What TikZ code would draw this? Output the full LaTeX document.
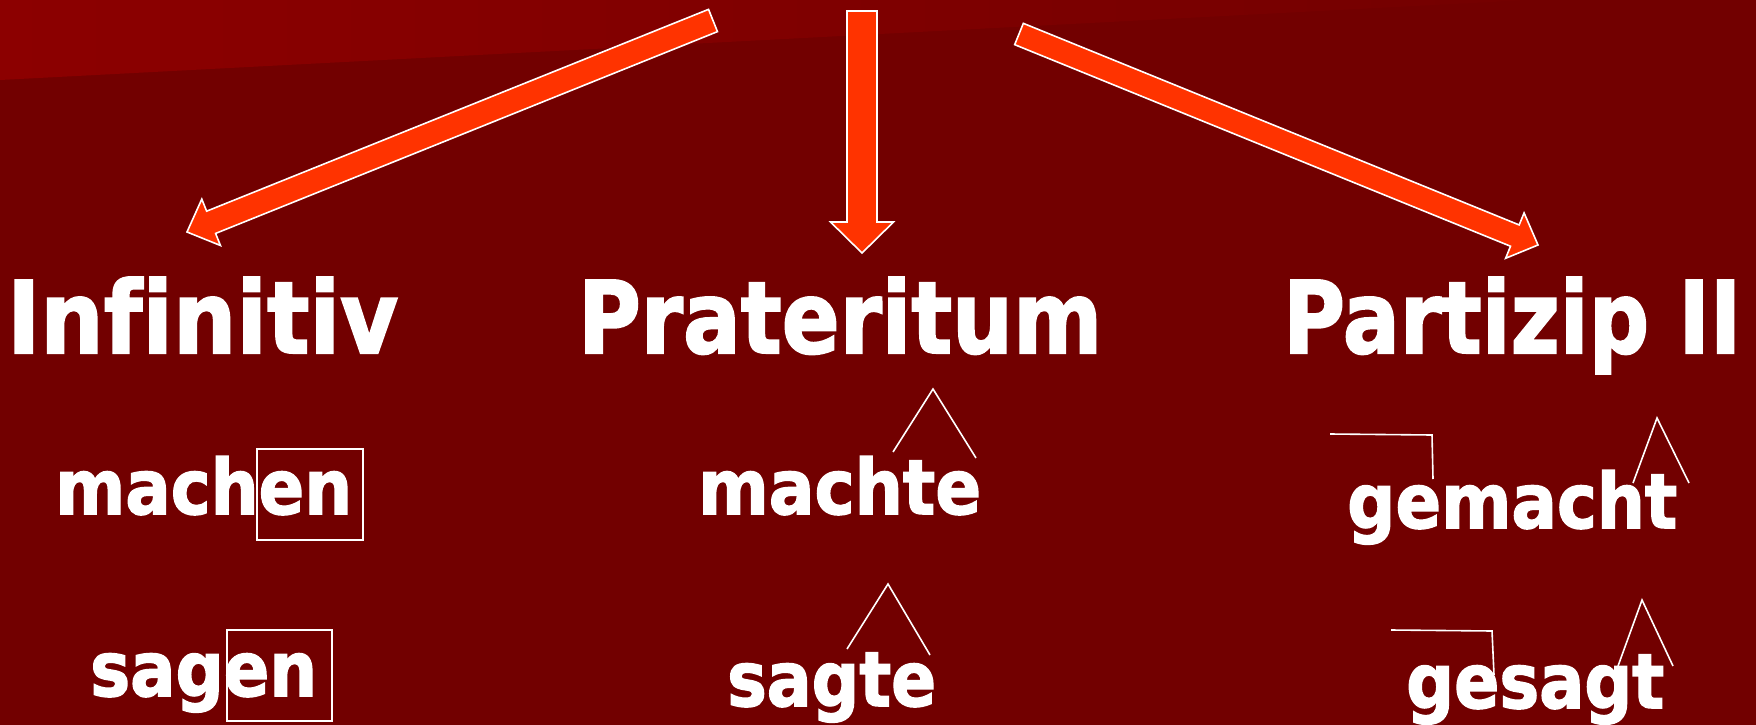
\documentclass[tikz,border=0pt]{standalone}
\usepackage{fontspec}
\setmainfont{DejaVu Sans}[Ligatures=NoCommon, BoldFeatures={FakeBold=2}]
\usetikzlibrary{calc}
\definecolor{bg}{HTML}{720000}
\definecolor{bandl}{HTML}{8C0000}
\definecolor{bandr}{HTML}{740000}
\definecolor{arrowfill}{HTML}{FF3300}
\newcommand\fitw[2]{\sbox0{#2}\pgfmathsetmacro\fitfac{#1/\wd0}\scalebox{\fitfac}[1]{\usebox0}}
\newcommand\fatarrow[6]{%
  \coordinate (#1h) at ($(#3)!#6!(#2)$);
  \draw[bigarrow] ($(#2)!#4!90:(#3)$) -- ($(#1h)!#4!90:(#3)$) -- ($(#1h)!#5!90:(#3)$) -- (#3)
    -- ($(#1h)!#5!-90:(#3)$) -- ($(#1h)!#4!-90:(#3)$) -- ($(#2)!#4!-90:(#3)$) -- cycle;}
\tikzset{
  bigarrow/.style={fill=arrowfill, draw=white, line width=1.6pt, line join=miter},
  title/.style={text=white, anchor=base west, inner sep=0pt, font=\fontsize{100}{110}\selectfont\bfseries},
  word/.style={text=white, anchor=base west, inner sep=0pt, font=\fontsize{76}{85}\selectfont\bfseries},
  endbox/.style={draw=white, line width=1.6pt, inner sep=0pt},
  mark line/.style={draw=white, line width=1.6pt}
}
\begin{document}
\begin{tikzpicture}[x=1pt, y=-1pt]
  \useasboundingbox (0,0) rectangle (1756,725);
  \fill[bg] (0,0) rectangle (1756,725);
  \shade[left color=bandl, right color=bandr] (0,0) -- (1530,0) -- (0,80) -- cycle;

  % arrows
  \coordinate (lt) at (713,20.5);
  \coordinate (lp) at (187,232);
  \coordinate (mt) at (862,11);
  \coordinate (mp) at (862,253);
  \coordinate (rt) at (1019,34);
  \coordinate (rp) at (1538,245);
  \fatarrow{L}{lt}{lp}{12pt}{25pt}{26pt}
  \fatarrow{M}{mt}{mp}{15pt}{31.5pt}{31pt}
  \fatarrow{R}{rt}{rp}{11.5pt}{24.5pt}{25pt}

  % titles
  \node[title] (inf) at (7,353) {\fitw{391}{Infinitiv}};
  \node[title] (prat) at (578,353) {\fitw{524}{Prateritum}};
  \node[title] (part) at (1283,353) {\fitw{458}{Partizip II}};

  % words
  \node[word] (machen) at (55,514) {\fitw{297}{machen}};
  \node[word] (sagen) at (90,696) {\fitw{227}{sagen}};
  \node[word] (machte) at (698,514) {\fitw{283}{machte}};
  \node[word] (sagte) at (727,706) {\fitw{209}{sagte}};
  \node[word] (gemacht) at (1347,528) {\fitw{330}{gemacht}};
  \node[word] (gesagt) at (1406,708) {\fitw{258}{gesagt}};

  % boxes around endings
  \node[endbox, minimum width=106pt, minimum height=91pt] (box1) at (310,494.5) {};
  \node[endbox, minimum width=105pt, minimum height=91pt] (box2) at (279.5,675.5) {};

  % carets and brackets
  \draw[mark line] (893,452) -- (933,389) -- (976,458);
  \draw[mark line] (847,649) -- (888,584) -- (930,655);
  \draw[mark line] (1330,434) -- (1432,435) -- (1433,479);
  \draw[mark line] (1633,483) -- (1657,418) -- (1689,483);
  \draw[mark line] (1391,630) -- (1492,631) -- (1494,675);
  \draw[mark line] (1618,666) -- (1642,600) -- (1673,666);
\end{tikzpicture}
\end{document}
